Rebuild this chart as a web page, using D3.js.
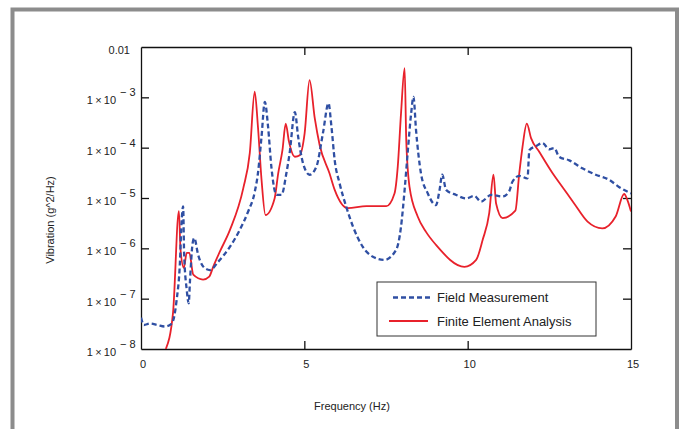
<!DOCTYPE html>
<html>
<head>
<meta charset="utf-8">
<script src="https://cdn.jsdelivr.net/npm/d3@7"></script>
<style>
  html, body { margin: 0; padding: 0; background: #fff; }
  text { font-family: "Liberation Sans", Arial, sans-serif; fill: #222; }
</style>
</head>
<body>
<div id="chart"></div>
<script>
// Field measurement (blue dashed)
const fieldFreq = [0.00, 0.09, 0.27, 0.50, 0.73, 0.94, 1.09, 1.19, 1.24, 1.29, 1.32, 1.40, 1.46, 1.50, 1.58, 1.63,
    1.75, 1.96, 2.11, 2.36, 2.72, 3.02, 3.28, 3.48, 3.58, 3.69, 3.79, 3.89, 3.99, 4.15, 4.30, 4.45, 4.55,
    4.71, 4.81, 4.96, 5.16, 5.37, 5.57, 5.74, 5.83, 5.93, 6.08, 6.28, 6.49, 6.79, 7.10, 7.45, 7.81, 7.96,
    8.07, 8.17, 8.27, 8.34, 8.42, 8.57, 8.78, 9.03, 9.14, 9.22, 9.34, 9.65, 9.95, 10.20, 10.41, 10.72,
    11.07, 11.27, 11.37, 11.58, 11.83, 11.89, 12.09, 12.29, 12.50, 12.65, 12.80, 13.11, 13.51, 13.92,
    14.33, 14.63, 15.00];
const fieldPsd = [4.2e-8, 3.0e-8, 3.2e-8, 3.0e-8, 2.8e-8, 3.2e-8, 9.3e-8, 5.0e-7, 3.2e-6, 6.8e-6, 7.9e-7, 1.5e-7,
    8.1e-8, 2.3e-7, 1.26e-6, 1.6e-6, 7.4e-7, 4.0e-7, 3.7e-7, 5.4e-7, 1.07e-6, 2.3e-6, 5.4e-6, 1.3e-5,
    3.1e-5, 1.66e-4, 8.1e-4, 2.6e-4, 4.2e-5, 1.15e-5, 1.15e-5, 3.1e-5, 7.8e-5, 5.1e-4, 1.66e-4, 4.9e-5,
    2.9e-5, 4.2e-5, 1.95e-4, 7.6e-4, 2.6e-4, 5.6e-5, 1.95e-5, 6.8e-6, 2.7e-6, 1.07e-6, 6.8e-7, 5.9e-7,
    9.3e-7, 2.7e-6, 1.45e-5, 8.9e-5, 4.8e-4, 1.02e-3, 2.2e-4, 3.1e-5, 1.23e-5, 7.2e-6, 1.45e-5, 2.9e-5,
    1.45e-5, 1.15e-5, 9.8e-6, 1.1e-5, 8.5e-6, 1.15e-5, 1.07e-5, 1.35e-5, 2.1e-5, 2.75e-5, 2.45e-5,
    8.9e-5, 1.07e-4, 1.23e-4, 9.3e-5, 9.8e-5, 6.6e-5, 5.6e-5, 3.9e-5, 2.9e-5, 2.3e-5, 1.66e-5, 1.23e-5];

// Finite element analysis (red solid)
const feaFreq = [0.76, 0.98, 1.16, 1.21, 1.31, 1.40, 1.48, 1.60, 1.90, 2.09, 2.21, 2.41, 2.72, 3.13, 3.33, 3.48,
    3.58, 3.69, 3.81, 4.09, 4.20, 4.33, 4.43, 4.53, 4.71, 4.86, 5.01, 5.16, 5.32, 5.47, 5.77, 5.93, 6.33,
    6.90, 7.51, 7.76, 7.86, 7.96, 8.07, 8.12, 8.22, 8.47, 8.73, 9.03, 9.90, 10.26, 10.46, 10.66, 10.79,
    10.87, 11.07, 11.46, 11.58, 11.68, 11.81, 11.94, 12.19, 12.60, 12.90, 13.26, 13.67, 14.12, 14.53,
    14.79, 14.89, 15.00];
const feaPsd = [1.0e-8, 5.2e-8, 5.5e-6, 9.3e-7, 4.1e-7, 8.1e-7, 8.1e-7, 3.0e-7, 2.4e-7, 2.75e-7, 4.3e-7, 8.5e-7,
    2.3e-6, 1.55e-5, 7.8e-5, 1.29e-3, 2.6e-4, 2.3e-5, 4.6e-6, 9.8e-6, 3.1e-5, 8.9e-5, 3.0e-4, 1.32e-4,
    6.6e-5, 7.1e-5, 1.95e-4, 2.2e-3, 3.8e-4, 1.12e-4, 3.1e-5, 1.45e-5, 6.3e-6, 6.9e-6, 6.9e-6, 1.23e-5,
    4.2e-5, 4.8e-4, 3.8e-3, 1.41e-4, 1.66e-5, 4.3e-6, 2.1e-6, 1.17e-6, 4.3e-7, 5.9e-7, 1.48e-6, 5.0e-6,
    2.9e-5, 7.8e-6, 4.0e-6, 5.6e-6, 3.1e-5, 1.05e-4, 3.0e-4, 1.55e-4, 8.3e-5, 3.1e-5, 1.66e-5, 7.8e-6,
    3.4e-6, 2.5e-6, 4.3e-6, 1.2e-5, 9.1e-6, 5.4e-6];

const xTicks = [0, 5, 10, 15];
const yTicks = [1e-8, 1e-7, 1e-6, 1e-5, 1e-4, 1e-3, 1e-2];
const seriesNames = ['Field Measurement', 'Finite Element Analysis'];

document.addEventListener('DOMContentLoaded', () => {
    const width = 684;
    const height = 429;
    const margin = { left: 141, top: 47, right: 53, bottom: 80 };
    const plotW = width - margin.left - margin.right;
    const plotH = height - margin.top - margin.bottom;

    const svg = d3.select('#chart')
        .append('svg')
        .attr('width', width)
        .attr('height', height);

    // grey outer frame (cut off at the bottom)
    svg.append('rect')
        .attr('x', 12.5).attr('y', 9.5)
        .attr('width', 664.5).attr('height', 460)
        .attr('fill', 'none')
        .attr('stroke', '#8c8c8c')
        .attr('stroke-width', 4);

    const x = d3.scaleLinear().domain([0, 15]).range([0, plotW]);
    const y = d3.scaleLog().domain([1e-8, 1e-2]).range([plotH, 0]);

    const g = svg.append('g').attr('transform', `translate(${margin.left},${margin.top})`);

    g.append('clipPath').attr('id', 'clip')
        .append('rect').attr('width', plotW).attr('height', plotH);

    // axes with inward ticks on all four sides
    const tick = 8;
    g.append('g').attr('transform', `translate(0,${plotH})`)
        .call(d3.axisBottom(x).tickValues([5, 10]).tickSizeInner(-tick).tickSizeOuter(0).tickFormat(''));
    g.append('g')
        .call(d3.axisTop(x).tickValues([5, 10]).tickSizeInner(-tick).tickSizeOuter(0).tickFormat(''));
    g.append('g')
        .call(d3.axisLeft(y).tickValues(yTicks.slice(1, -1)).tickSizeInner(-tick).tickSizeOuter(0).tickFormat(''));
    g.append('g').attr('transform', `translate(${plotW},0)`)
        .call(d3.axisRight(y).tickValues(yTicks.slice(1, -1)).tickSizeInner(-tick).tickSizeOuter(0).tickFormat(''));
    g.selectAll('.domain, .tick line').attr('stroke', '#111').attr('stroke-width', 1.3);

    // x tick labels
    g.selectAll('.xlab')
        .data(xTicks)
        .enter()
        .append('text')
        .attr('x', d => x(d) + 2)
        .attr('y', plotH + 19)
        .attr('text-anchor', 'middle')
        .style('font-size', '11px')
        .text(d => d);

    // y tick labels: 0.01 then 1 x 10^-n
    yTicks.forEach(v => {
        const exp = Math.round(Math.log10(v));
        if (exp === -2) {
            g.append('text')
                .attr('x', -11).attr('y', y(v) + 7)
                .attr('text-anchor', 'end')
                .style('font-size', '11px')
                .text('0.01');
            return;
        }
        g.append('text')
            .attr('x', -25).attr('y', y(v) + 7)
            .attr('text-anchor', 'end')
            .style('font-size', '11px')
            .text('1\u2009\u00d7\u200910');
        g.append('text')
            .attr('x', -21).attr('y', y(v) - 1)
            .style('font-size', '11px')
            .text('\u2212 ' + (-exp));
    });

    // axis titles
    g.append('text')
        .attr('x', plotW / 2 - 34)
        .attr('y', plotH + 61)
        .attr('text-anchor', 'middle')
        .style('font-size', '11px')
        .text('Frequency (Hz)');
    svg.append('text')
        .attr('transform', `translate(54,220) rotate(-90)`)
        .attr('text-anchor', 'middle')
        .style('font-size', '11px')
        .text('Vibration (g^2/Hz)');

    const line = d3.line()
        .curve(d3.curveMonotoneX)
        .x(d => x(d[0]))
        .y(d => y(d[1]));

    const plot = g.append('g').attr('clip-path', 'url(#clip)');

    plot.append('path')
        .datum(d3.zip(feaFreq, feaPsd))
        .attr('fill', 'none')
        .attr('stroke', '#e8212b')
        .attr('stroke-width', 1.8)
        .attr('stroke-linejoin', 'round')
        .attr('d', line);

    plot.append('path')
        .datum(d3.zip(fieldFreq, fieldPsd))
        .attr('fill', 'none')
        .attr('stroke', '#2f4fa3')
        .attr('stroke-width', 2.3)
        .attr('stroke-dasharray', '5,3')
        .attr('d', line);

    // legend
    const lg = svg.append('g').attr('transform', 'translate(377,282)');
    lg.append('rect')
        .attr('width', 219).attr('height', 54)
        .attr('fill', '#fff')
        .attr('stroke', '#333')
        .attr('stroke-width', 1);
    lg.append('line')
        .attr('x1', 16).attr('x2', 54).attr('y1', 15.5).attr('y2', 15.5)
        .attr('stroke', '#2f4fa3').attr('stroke-width', 2.3).attr('stroke-dasharray', '5,3');
    lg.append('line')
        .attr('x1', 12).attr('x2', 51).attr('y1', 39).attr('y2', 39)
        .attr('stroke', '#e8212b').attr('stroke-width', 1.8);
    lg.selectAll('.ltext')
        .data(seriesNames)
        .enter()
        .append('text')
        .attr('x', 60)
        .attr('y', (d, i) => 20 + i * 24)
        .style('font-size', '13px')
        .text(d => d);
});
</script>
</body>
</html>
